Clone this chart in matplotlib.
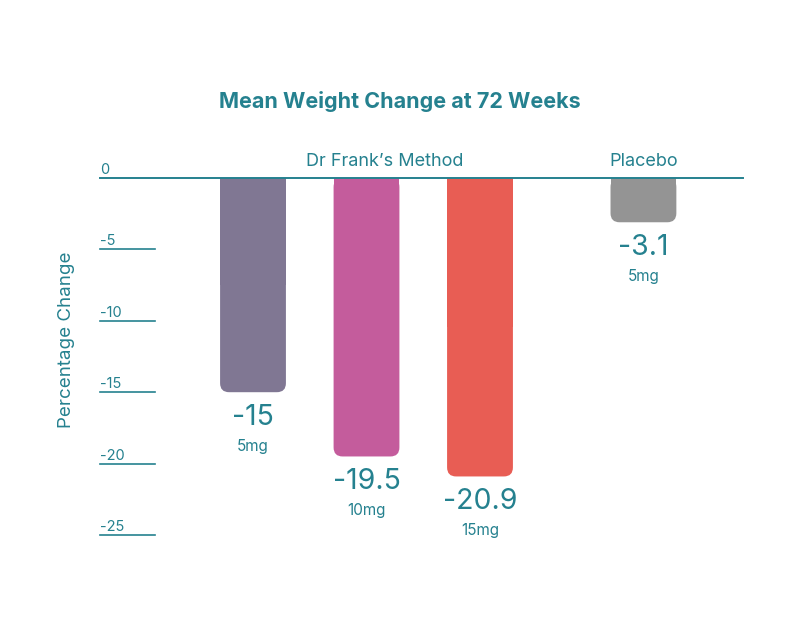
import matplotlib
matplotlib.use("Agg")
import matplotlib.pyplot as plt
from matplotlib.patches import FancyBboxPatch, Rectangle

plt.rcParams['font.family'] = ['Inter', 'DejaVu Sans']

# data
doses = ['5mg', '10mg', '15mg', '5mg']
values = [-15, -19.5, -20.9, -3.1]
groups = ["Dr Frank\u2019s Method", 'Placebo']
group_of = [0, 0, 0, 1]
yticks = [0, -5, -10, -15, -20, -25]
bar_colors = ['#807793', '#c45c9c', '#e85d54', '#949494']
teal = '#25818f'

fig = plt.figure(figsize=(8, 6.22), dpi=100)
ax = fig.add_axes([0, 0, 1, 1])
ax.axis('off')

# pixel -> data mapping
px_x = 113.5   # px per x unit
px_y = 14.28   # px per y unit
x0_px, y0_px = 253, 178
ax.set_xlim(-x0_px / px_x, (800 - x0_px) / px_x)
ax.set_ylim(-(622 - y0_px) / px_y, y0_px / px_y)

def px2x(p):
    return (p - x0_px) / px_x

# bar positions: groups separated by an extra gap
gap = 0.44
xs = []
for i, g in enumerate(group_of):
    xs.append(i + g * gap)

width = 0.58
r_px = 9
for x, v, c, d in zip(xs, values, bar_colors, doses):
    rx = r_px / px_x
    p = FancyBboxPatch((x - width / 2, v), width, -v,
                       boxstyle=f"round,pad=0,rounding_size={rx}",
                       mutation_aspect=px_x / px_y,
                       fc=c, ec='none', zorder=2)
    ax.add_patch(p)
    # square off the top corners
    ax.add_patch(Rectangle((x - width / 2, v / 2), width, -v / 2,
                           fc=c, ec='none', zorder=2))
    ax.text(x, v - 25 / px_y, f"{v:g}", ha='center', va='center',
            fontsize=20.5, color=teal)
    ax.text(x, v - 54 / px_y, d, ha='center', va='center',
            fontsize=11, color=teal)

# zero line and tick marks
ax.plot([px2x(100), px2x(743)], [0, 0], color=teal, lw=1.4, zorder=3)
for t in yticks:
    if t != 0:
        ax.plot([px2x(100), px2x(155)], [t, t], color=teal, lw=1.2)
    ax.text(px2x(100), t + 1 / px_y, f"{t}", ha='left', va='bottom',
            fontsize=10.5, color=teal)

# group labels
for gi, g in enumerate(groups):
    members = [x for x, k in zip(xs, group_of) if k == gi]
    cx = (min(members) + max(members)) / 2
    if gi == 0:
        cx = px2x(385)
    ax.text(cx, 16 / px_y, g, ha='center', va='center', fontsize=13, color=teal)

ax.text(px2x(67), -(340 - y0_px) / px_y, 'Percentage Change', rotation=90,
        ha='center', va='center', fontsize=13.5, color=teal)

fig.text(0.5, 1 - 102 / 622, 'Mean Weight Change at 72 Weeks', ha='center',
         va='center', fontsize=15.5, fontweight='bold', color=teal)

fig.savefig('out.png', dpi=100)
